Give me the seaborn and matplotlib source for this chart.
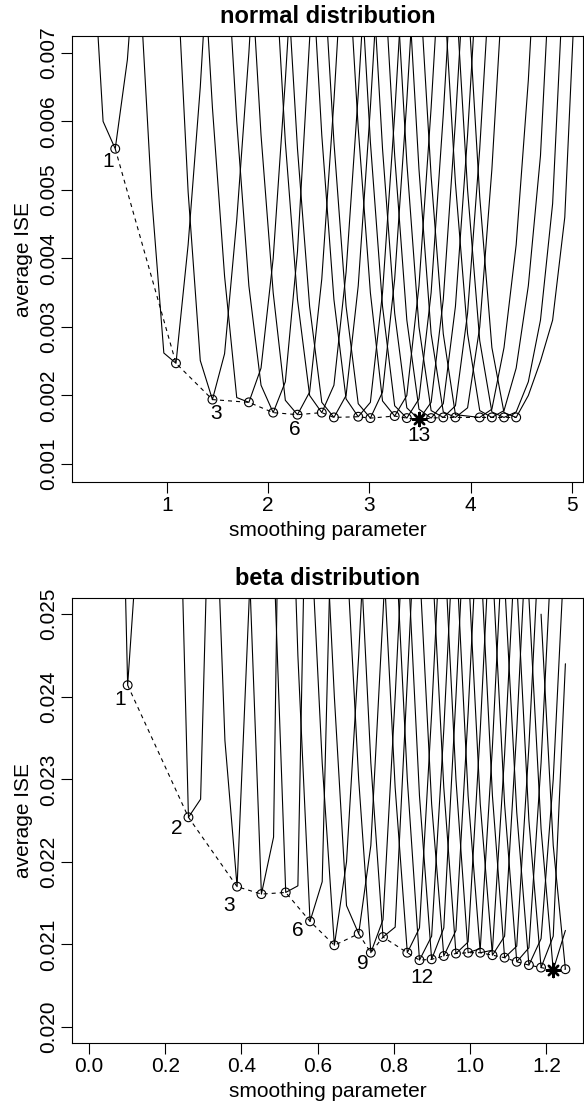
import numpy as np
import pandas as pd
import seaborn as sns
import matplotlib
matplotlib.use('Agg')
import matplotlib.pyplot as plt

# grid of smoothing parameters, normal distribution
H_NORMAL = [0.249, 0.369, 0.489, 0.609, 0.729, 0.849, 0.969, 1.089, 1.209, 1.329,
            1.449, 1.569, 1.689, 1.809, 1.929, 2.049, 2.169, 2.289, 2.409, 2.529,
            2.649, 2.769, 2.889, 3.009, 3.129, 3.249, 3.369, 3.489, 3.609, 3.729,
            3.849, 3.969, 4.089, 4.209, 4.329, 4.449, 4.569, 4.689, 4.809, 4.929,
            5.049, 5.169]

# first grid index of every iteration curve
NORMAL_START = [0, 4, 7, 9, 11, 13, 15, 16, 18, 19, 21, 22, 23, 24, 25, 26, 27, 29, 30, 31]

# average ISE of every iteration curve along the grid
NORMAL_ISE = [
    [0.0090, 0.0060, 0.0056, 0.0069, 0.0093],
    [0.0081, 0.0049, 0.00262, 0.00247, 0.0042, 0.0065, 0.0095],
    [0.0085, 0.00497, 0.00251, 0.00194, 0.00261, 0.00456, 0.0070, 0.0100],
    [0.0092, 0.0062, 0.00374, 0.00197, 0.00190, 0.0024, 0.0040, 0.0066, 0.0095],
    [0.0090, 0.0060, 0.0036, 0.00215, 0.00175, 0.0022, 0.0041, 0.0072, 0.0100],
    [0.0088, 0.0058, 0.0035, 0.00193, 0.00172, 0.00205, 0.0037, 0.0063, 0.0093],
    [0.0088, 0.0057, 0.0034, 0.0020, 0.00175, 0.00215, 0.0038, 0.0064, 0.0094],
    [0.0086, 0.0056, 0.0033, 0.0019, 0.00168, 0.0020, 0.0036, 0.0062, 0.0092],
    [0.0089, 0.0058, 0.0034, 0.00195, 0.00169, 0.0019, 0.0035, 0.0061, 0.0091],
    [0.0087, 0.0057, 0.0033, 0.00188, 0.00167, 0.00205, 0.0037, 0.0063, 0.0093],
    [0.0089, 0.0059, 0.0035, 0.00192, 0.00170, 0.0020, 0.0036, 0.0062, 0.0092],
    [0.0088, 0.0057, 0.0033, 0.00185, 0.00167, 0.00195, 0.0035, 0.0061, 0.0091],
    [0.0087, 0.0056, 0.0032, 0.00182, 0.00165, 0.0019, 0.0034, 0.0060, 0.0090],
    [0.0086, 0.0055, 0.0031, 0.0018, 0.00167, 0.00188, 0.0033, 0.0058, 0.0088],
    [0.0085, 0.0054, 0.0030, 0.00178, 0.00168, 0.00185, 0.0032, 0.0056, 0.0086],
    [0.0084, 0.0053, 0.0029, 0.00176, 0.00168, 0.00182, 0.0030, 0.0053, 0.0083],
    [0.0082, 0.0052, 0.0029, 0.00172, 0.00170, 0.00168, 0.0018, 0.0027, 0.0042, 0.0066, 0.0098],
    [0.0081, 0.0051, 0.0029, 0.00178, 0.00168, 0.00178, 0.0024, 0.0036, 0.0055, 0.0090],
    [0.0080, 0.0050, 0.0028, 0.00176, 0.00168, 0.00176, 0.0022, 0.0031, 0.0048, 0.0085],
    [0.0079, 0.0049, 0.0027, 0.00175, 0.00168, 0.0020, 0.0025, 0.0031, 0.0046, 0.0085],
]
NORMAL_MARKED = [1, 3, 6, 13]

# grid of smoothing parameters, beta distribution
H_BETA = [0.0376, 0.0695, 0.1014, 0.1333, 0.1652, 0.1971, 0.2290, 0.2609, 0.2928, 0.3247,
          0.3566, 0.3885, 0.4204, 0.4523, 0.4842, 0.5161, 0.5480, 0.5799, 0.6118, 0.6437,
          0.6756, 0.7075, 0.7394, 0.7713, 0.8032, 0.8351, 0.8670, 0.8989, 0.9308, 0.9627,
          0.9946, 1.0265, 1.0584, 1.0903, 1.1222, 1.1541, 1.1860, 1.2179, 1.2498]

BETA_START = [0, 5, 9, 11, 13, 15, 17, 18, 20, 21, 23, 24, 25, 26, 27, 28, 29, 30,
              31, 32, 33, 34, 35, 36]

BETA_ISE = [
    [0.0370, 0.0304, 0.02414, 0.0263, 0.0300],
    [0.0340, 0.0283, 0.02254, 0.02276, 0.0283, 0.0340],
    [0.0275, 0.02347, 0.02170, 0.0252, 0.0290],
    [0.0300, 0.0256, 0.02161, 0.0223, 0.0326],
    [0.0300, 0.0258, 0.02163, 0.02171, 0.0293],
    [0.0290, 0.0245, 0.02128, 0.02176, 0.0276, 0.0320],
    [0.0262, 0.0232, 0.02099, 0.0220, 0.0245, 0.0275],
    [0.0270, 0.0240, 0.02147, 0.02113, 0.0222, 0.0250, 0.0280],
    [0.0258, 0.0230, 0.02090, 0.0213, 0.0240, 0.0270],
    [0.0262, 0.0232, 0.02109, 0.02121, 0.0242, 0.0272],
    [0.0258, 0.0229, 0.02090, 0.0212, 0.0238, 0.0268],
    [0.0260, 0.0230, 0.02081, 0.0211, 0.0236, 0.0266],
    [0.0258, 0.0228, 0.02082, 0.0212, 0.0240, 0.0270],
    [0.0256, 0.0227, 0.02086, 0.02117, 0.0238, 0.0268],
    [0.0258, 0.0229, 0.02089, 0.02103, 0.0236, 0.0266],
    [0.0260, 0.0230, 0.02090, 0.02095, 0.0234, 0.0264],
    [0.0258, 0.0228, 0.02090, 0.02093, 0.0233, 0.0262],
    [0.0256, 0.0227, 0.02087, 0.0211, 0.0236, 0.0266],
    [0.0258, 0.0228, 0.02084, 0.02098, 0.0234, 0.0264],
    [0.0256, 0.0227, 0.02079, 0.02096, 0.0232, 0.0262],
    [0.0254, 0.0226, 0.02075, 0.02107, 0.0230, 0.0260],
    [0.0254, 0.0225, 0.02072, 0.0211, 0.0244],
    [0.0252, 0.0224, 0.02069, 0.02117],
    [0.0250, 0.0222, 0.02070],
]
BETA_MARKED = [1, 2, 3, 6, 9, 12]

NORMAL_XTICKS = [1, 2, 3, 4, 5]
NORMAL_XLABELS = ['1', '2', '3', '4', '5']
NORMAL_YTICKS = [0.001, 0.002, 0.003, 0.004, 0.005, 0.006, 0.007]
NORMAL_YLABELS = ['0.001', '0.002', '0.003', '0.004', '0.005', '0.006', '0.007']
BETA_XTICKS = [0.0, 0.2, 0.4, 0.6, 0.8, 1.0, 1.2]
BETA_XLABELS = ['0.0', '0.2', '0.4', '0.6', '0.8', '1.0', '1.2']
BETA_YTICKS = [0.020, 0.021, 0.022, 0.023, 0.024, 0.025]
BETA_YLABELS = ['0.020', '0.021', '0.022', '0.023', '0.024', '0.025']

sns.set_style('ticks')
plt.rcParams['font.family'] = ['Liberation Sans', 'DejaVu Sans']
plt.rcParams['lines.scale_dashes'] = False
plt.rcParams['text.color'] = 'black'
plt.rcParams['axes.labelcolor'] = 'black'


def panel(ax, grid, starts, values, marked, offsets, title):
    rows = []
    for c, (s, vals) in enumerate(zip(starts, values), start=1):
        for j, v in enumerate(vals):
            rows.append({'curve': c, 'h': grid[s + j], 'ise': v})
    df = pd.DataFrame(rows)

    # one V-shaped line per iteration
    sns.lineplot(data=df, x='h', y='ise', units='curve', estimator=None, sort=False,
                 color='black', linewidth=0.8, ax=ax, legend=False)

    # minimum of each curve, joined by a dashed path
    mins = df.loc[df.groupby('curve')['ise'].idxmin()].reset_index(drop=True)
    best = mins['ise'].idxmin()
    sns.lineplot(data=mins, x='h', y='ise', sort=False, estimator=None, color='black',
                 linewidth=0.8, linestyle=(0, (2.9, 2.9)), ax=ax)
    sns.scatterplot(data=mins.drop(index=best), x='h', y='ise', marker='o', s=40,
                    facecolor='none', edgecolor='black', linewidth=0.8, ax=ax, zorder=3)
    sns.scatterplot(data=mins.loc[[best]], x='h', y='ise', marker=(8, 2, 0), s=90,
                    color='black', edgecolor='black', linewidth=1.7, ax=ax, zorder=4)

    for c, (dx, dy) in zip(marked, offsets):
        r = mins[mins['curve'] == c].iloc[0]
        ax.annotate(str(c), (r['h'], r['ise']), xytext=(dx * 0.72, -dy * 0.72),
                    textcoords='offset points', ha='center', va='center', fontsize=15)

    ax.set_title(title, fontsize=17, fontweight='bold', pad=9.4)
    ax.set_xlabel('smoothing parameter', fontsize=15)
    ax.set_ylabel('average ISE', fontsize=15)
    ax.xaxis.set_label_coords(0.5, -0.11)
    ax.xaxis.label.set_va('center')
    ax.yaxis.set_label_coords(-0.094, 0.5)
    ax.yaxis.label.set_va('center')
    for sp in ax.spines.values():
        sp.set_visible(True)
        sp.set_linewidth(0.8)
        sp.set_color('black')
    ax.tick_params(direction='out', length=7.7, width=0.8, labelsize=15, pad=2.5,
                   colors='black')
    ax.tick_params(axis='y', labelrotation=90, pad=2)


fig = plt.figure(figsize=(5.84, 11.08), dpi=100)
ax1 = fig.add_axes([72 / 584, 1 - 481.7 / 1108, 511 / 584, 445.3 / 1108])
ax2 = fig.add_axes([72 / 584, 1 - 1042.7 / 1108, 511 / 584, 445 / 1108])

panel(ax1, H_NORMAL, NORMAL_START, NORMAL_ISE, NORMAL_MARKED,
      [(-7, 13), (4, 14), (-3, 15), (0, 16)], 'normal distribution')
ax1.set_xlim(0.062, 5.109)
ax1.set_ylim(0.000742, 0.00724)
ax1.set_xticks(NORMAL_XTICKS, NORMAL_XLABELS)
ax1.set_yticks(NORMAL_YTICKS, NORMAL_YLABELS)

panel(ax2, H_BETA, BETA_START, BETA_ISE, BETA_MARKED,
      [(-7, 14), (-12, 11), (-8, 19), (-12, 9), (-8, 11), (2, 17)], 'beta distribution')
ax2.set_xlim(-0.0446, 1.296)
ax2.set_ylim(0.01981, 0.0252)
ax2.set_xticks(BETA_XTICKS, BETA_XLABELS)
ax2.set_yticks(BETA_YTICKS, BETA_YLABELS)

for ax in (ax1, ax2):
    for lab in ax.get_yticklabels():
        lab.set_va('center')

fig.savefig('out.png', dpi=100)
